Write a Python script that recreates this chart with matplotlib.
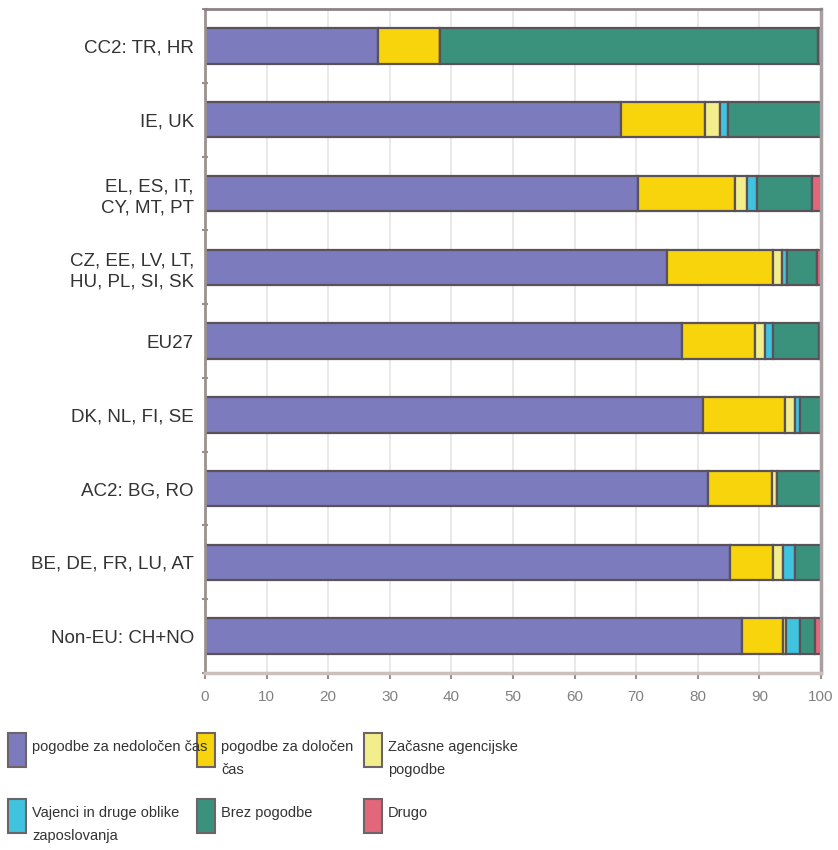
import numpy as np
import matplotlib.pyplot as plt
from matplotlib.patches import Rectangle

plt.rcParams['font.family'] = ['Liberation Sans', 'DejaVu Sans']

# Employment contract shares by country group (%)
groups = ["CC2: TR, HR", "IE, UK", "EL, ES, IT,\nCY, MT, PT",
          "CZ, EE, LV, LT,\nHU, PL, SI, SK", "EU27", "DK, NL, FI, SE",
          "AC2: BG, RO", "BE, DE, FR, LU, AT", "Non-EU: CH+NO"]

indefinite = [28.1, 67.6, 70.3, 75.0, 77.4, 80.9, 81.7, 85.2, 87.2]
fixed_term = [10.0, 13.6, 15.7, 17.2, 11.9, 13.3, 10.4, 7.0, 6.6]
agency = [0.0, 2.4, 2.0, 1.5, 1.6, 1.6, 0.7, 1.6, 0.5]
apprentices = [0.0, 1.3, 1.6, 0.8, 1.3, 0.8, 0.0, 2.0, 2.3]
no_contract = [61.4, 15.1, 8.9, 4.9, 7.4, 3.4, 7.2, 4.2, 2.4]
other = [0.5, 0.0, 1.5, 0.6, 0.4, 0.0, 0.0, 0.0, 1.0]

series = [indefinite, fixed_term, agency, apprentices, no_contract, other]
names = ["pogodbe za nedoločen čas", "pogodbe za določen\nčas",
         "Začasne agencijske\npogodbe", "Vajenci in druge oblike\nzaposlovanja",
         "Brez pogodbe", "Drugo"]
colors = ["#7b7bbd", "#f7d40c", "#f3ee8c", "#3fc3df", "#3a917c", "#e2677a"]

fig = plt.figure(figsize=(8.38, 8.5), dpi=100)
ax = fig.add_axes([0.2446, 0.2082, 0.7351, 0.7812])

y = np.arange(len(groups))
left = np.zeros(len(groups))
for vals, col in zip(series, colors):
    vals = np.array(vals)
    ax.barh(y, vals, left=left, height=0.48, color=col,
            edgecolor="#5a5258", linewidth=1.6)
    left += vals

ax.set_ylim(len(groups) - 0.5, -0.5)
ax.set_xlim(0, 100)
ax.set_xticks(np.arange(0, 101, 10))
ax.set_yticks(y)
ax.set_yticklabels(groups, fontsize=13.5, color="#333333", linespacing=1.3)
ax.set_yticks(np.arange(-0.5, len(groups), 1), minor=True)
ax.tick_params(axis="y", which="major", length=0, pad=8)
ax.tick_params(axis="y", which="minor", length=4, width=1.5, color="#9a9090",
               direction="inout")
ax.tick_params(axis="x", length=4, width=1.5, color="#9a9090", labelsize=11,
               labelcolor="#808080", pad=8)

ax.grid(axis="x", color="#e6e4e4", linewidth=1.2)
ax.set_axisbelow(True)

ax.spines["top"].set_color("#8c8284")
ax.spines["top"].set_linewidth(2)
ax.spines["right"].set_color("#a8a0a0")
ax.spines["right"].set_linewidth(2.5)
ax.spines["left"].set_color("#9a9090")
ax.spines["left"].set_linewidth(2)
ax.spines["bottom"].set_color("#cbc0bc")
ax.spines["bottom"].set_linewidth(2.5)

# Legend drawn as a 3x2 grid of swatches with labels
W, H = 838, 850
col_x = [8, 197, 364]
row_y = [733, 799]
for i, (name, col) in enumerate(zip(names, colors)):
    r, c = divmod(i, 3)
    x0, y0 = col_x[c], row_y[r]
    fig.add_artist(Rectangle((x0 / W, 1 - (y0 + 34) / H), 18 / W, 34 / H,
                             transform=fig.transFigure, facecolor=col,
                             edgecolor="#6e6466", linewidth=1.5))
    fig.text((x0 + 24) / W, 1 - (y0 + 7) / H, name, fontsize=10.5,
             color="#333333", va="top", ha="left", linespacing=1.8)

fig.savefig("out.png", dpi=100, facecolor="white")
